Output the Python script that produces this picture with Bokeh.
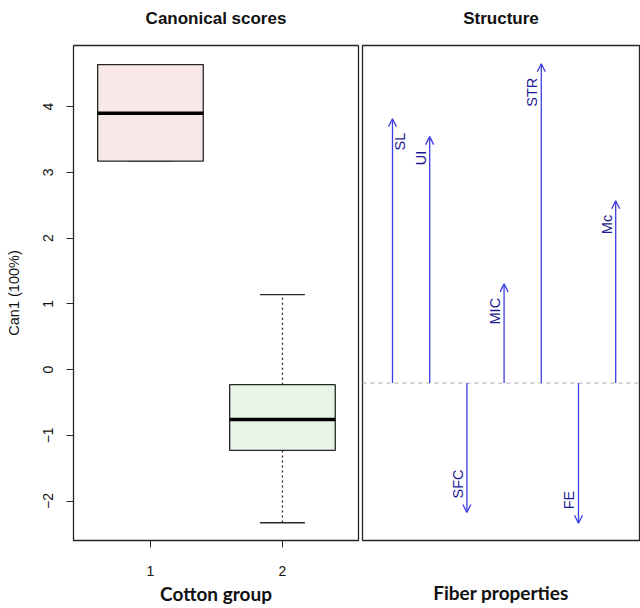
import numpy as np
from bokeh.plotting import figure
from bokeh.models import (Range1d, FixedTicker, ColumnDataSource, Arrow, OpenHead, Span, LinearAxis)
from bokeh.layouts import row
from bokeh.embed import file_html
from bokeh.resources import INLINE
from bokeh.core.properties import value

# ---------------- data ----------------
groups = [1, 2]
group_labels = ["1", "2"]
lower = [3.17, -2.33]
q1 = [3.17, -1.23]
median = [3.90, -0.76]
q3 = [4.64, -0.23]
upper = [4.64, 1.14]
box_colors = ["#f9e8e8", "#e7f5e7"]
y_ticks = [-2, -1, 0, 1, 2, 3, 4]

properties = ["SL", "UI", "SFC", "MIC", "STR", "FE", "Mc"]
structure = [0.754, 0.703, -0.369, 0.283, 0.911, -0.400, 0.520]

titles = ["Canonical scores", "Structure"]

FONT = "Liberation Sans"
AXFONT = "Lato"
FRAME = "#262626"


def bare_axis(ax):
    ax.ticker = FixedTicker(ticks=[])
    ax.axis_line_color = None
    ax.major_tick_out = 0
    ax.major_tick_in = 0
    ax.minor_tick_out = 0
    ax.minor_tick_in = 0
    ax.axis_label_text_color = "#111111"
    ax.axis_label_text_font_style = "bold"
    ax.axis_label_text_line_height = 1.0


def add_title(p, text):
    ax = LinearAxis(axis_label=text)
    bare_axis(ax)
    ax.axis_label_text_font = FONT
    ax.axis_label_text_font_size = "17px"
    ax.axis_label_standoff = 18
    p.add_layout(ax, "above")


# ---------------- left: canonical scores ----------------
p1 = figure(width=360, height=608, x_range=Range1d(0.417, 2.576), y_range=Range1d(-2.60, 4.93),
            output_backend="svg", toolbar_location=None, title=None,
            min_border_left=73, min_border_right=2, min_border_top=45, min_border_bottom=68)
p1.grid.visible = False
p1.outline_line_color = FRAME
p1.outline_line_width = 1.3
p1.background_fill_color = "white"
p1.border_fill_color = "white"
add_title(p1, titles[0])

g = np.array(groups, dtype=float)
half = 0.4
cap = 0.17
src = ColumnDataSource(dict(x=g, lower=lower, q1=q1, med=median, q3=q3, upper=upper,
                            color=box_colors, l=g - half, r=g + half, cl=g - cap, cr=g + cap))
# whiskers
p1.segment(x0="x", y0="q3", x1="x", y1="upper", source=src, line_color=FRAME, line_width=1.3, line_dash="2 3")
p1.segment(x0="x", y0="q1", x1="x", y1="lower", source=src, line_color=FRAME, line_width=1.3, line_dash="2 3")
p1.segment(x0="cl", y0="upper", x1="cr", y1="upper", source=src, line_color=FRAME, line_width=1.3)
p1.segment(x0="cl", y0="lower", x1="cr", y1="lower", source=src, line_color=FRAME, line_width=1.3)
# boxes
p1.quad(left="l", right="r", bottom="q1", top="q3", source=src, fill_color="color",
        line_color=FRAME, line_width=1.3)
p1.segment(x0="l", y0="med", x1="r", y1="med", source=src, line_color="black", line_width=3.5)

xax = p1.below[0]
yax = p1.left[0]
xax.ticker = FixedTicker(ticks=groups)
xax.major_label_overrides = {gg: lab for gg, lab in zip(groups, group_labels)}
yax.ticker = FixedTicker(ticks=y_ticks)
yax.major_label_orientation = "vertical"
for ax in (xax, yax):
    ax.major_tick_out = 7
    ax.major_tick_in = 0
    ax.minor_tick_out = 0
    ax.minor_tick_in = 0
    ax.axis_line_color = FRAME
    ax.major_tick_line_color = FRAME
    ax.major_label_text_font = FONT
    ax.major_label_text_font_size = "14px"
    ax.major_label_text_color = "#111111"
xax.major_label_text_line_height = 0.9
xax.major_label_standoff = 18
yax.major_label_standoff = 13
xax.axis_label = "Cotton group"
xax.axis_label_text_font = AXFONT
xax.axis_label_text_font_style = "bold"
xax.axis_label_text_font_size = "19px"
xax.axis_label_text_color = "#111111"
xax.axis_label_text_line_height = 0.9
xax.axis_label_standoff = 3
yax.axis_label = "Can1 (100%)"
yax.axis_label_text_font = FONT
yax.axis_label_text_font_style = "normal"
yax.axis_label_text_font_size = "14.5px"
yax.axis_label_text_color = "#111111"
yax.axis_label_standoff = 19

# ---------------- right: structure ----------------
p2 = figure(width=280, height=608, x_range=Range1d(0.194, 7.64), y_range=Range1d(-0.449, 0.963),
            output_backend="svg", toolbar_location=None, y_axis_location=None, title=None,
            min_border_left=2, min_border_right=1, min_border_top=45, min_border_bottom=68)
p2.grid.visible = False
p2.outline_line_color = FRAME
p2.outline_line_width = 1.3
p2.background_fill_color = "white"
p2.border_fill_color = "white"
add_title(p2, titles[1])

bx = p2.below[0]
bare_axis(bx)
bx.axis_label = "Fiber properties"
bx.axis_label_text_font = AXFONT
bx.axis_label_text_font_size = "19px"
bx.axis_label_text_line_height = 0.9
bx.axis_label_standoff = 40

p2.add_layout(Span(location=0, dimension="width", line_color="#bdbdbd", line_dash="4 4", line_width=1.2))

xs = np.arange(1, len(properties) + 1, dtype=float)
vals = np.array(structure)
arrow_src = ColumnDataSource(dict(x0=xs, y0=np.zeros_like(vals), x1=xs, y1=vals))
ARROW = "#3c3ce0"
p2.add_layout(Arrow(end=OpenHead(size=8, line_color=ARROW, line_width=1.3),
                    x_start="x0", y_start="y0", x_end="x1", y_end="y1",
                    line_color=ARROW, line_width=1.3, source=arrow_src))

x_off = [8 if i == 0 else -9 for i in range(len(properties))]
up = vals > 0
labcol = "#1b1b95"
src_up = ColumnDataSource(dict(x=xs[up], y=vals[up], t=[p for p, u in zip(properties, up) if u],
                               xo=[o for o, u in zip(x_off, up) if u]))
src_dn = ColumnDataSource(dict(x=xs[~up], y=vals[~up], t=[p for p, u in zip(properties, up) if not u],
                               xo=[o for o, u in zip(x_off, up) if not u]))
p2.text(x="x", y="y", text="t", source=src_up, angle=np.pi / 2, text_align="right",
        text_baseline="middle", x_offset="xo", y_offset=14, text_font=value(FONT),
        text_font_size="14.5px", text_color=labcol)
p2.text(x="x", y="y", text="t", source=src_dn, angle=np.pi / 2, text_align="left",
        text_baseline="middle", x_offset="xo", y_offset=-14, text_font=value(FONT),
        text_font_size="14.5px", text_color=labcol)

layout = row(p1, p2)
open("out.html", "w").write(file_html(layout, INLINE))
